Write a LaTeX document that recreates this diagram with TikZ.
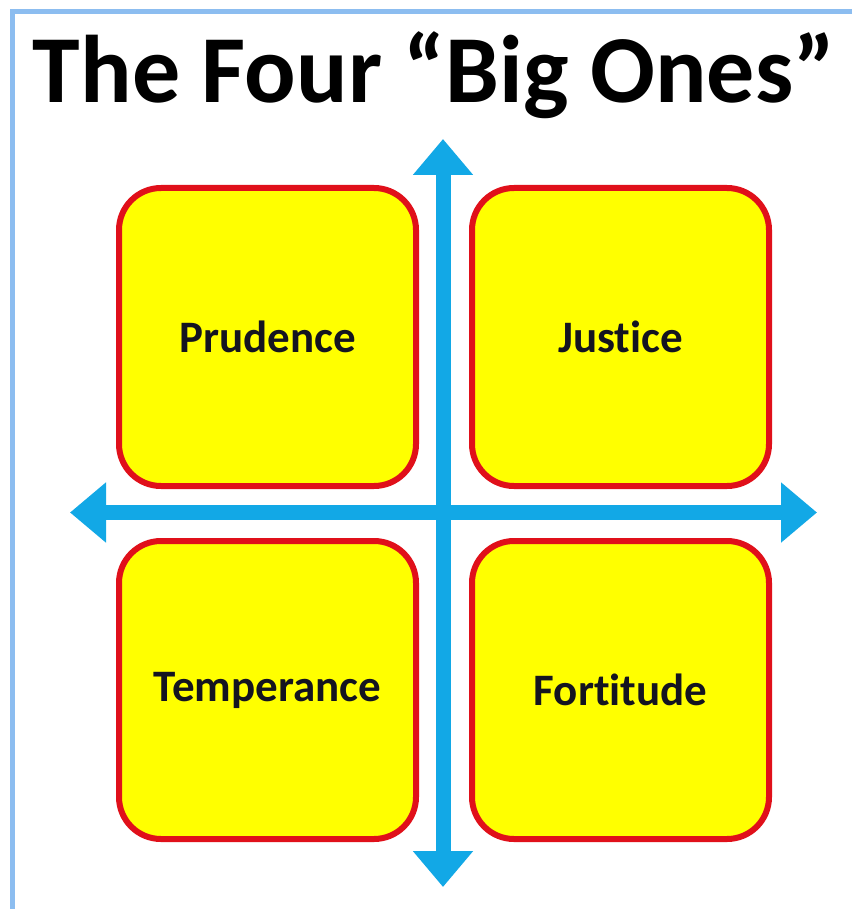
\documentclass[tikz,border=0pt]{standalone}
\usepackage{fontspec}
\setmainfont[RawFeature={-liga;-dlig;-clig}]{Carlito}
\usetikzlibrary{arrows.meta}
\definecolor{boxyellow}{HTML}{FFFF00}
\definecolor{boxred}{HTML}{E0101A}
\definecolor{axisblue}{HTML}{12A8E6}
\definecolor{frameblue}{HTML}{8CBDF0}
\definecolor{labeltext}{HTML}{141420}
\tikzset{
  virtue/.style={draw=boxred, line width=6pt, fill=boxyellow, rounded corners=42pt,
    minimum width=297pt, minimum height=298pt, inner sep=0pt,
    font=\fontsize{45}{52}\selectfont\bfseries, text=labeltext},
  axis/.style={draw=axisblue, line width=15pt,
    -{Triangle[length=36pt,width=58pt]}, shorten >=0pt},
  frame/.style={draw=frameblue, line width=5pt}
}
\begin{document}
\begin{tikzpicture}[x=1pt,y=-1pt]
\useasboundingbox (0,0) rectangle (852,909);
\fill[white] (0,0) rectangle (852,909);
\coordinate (ftl) at (12,12);
\coordinate (ftr) at (852,12);
\coordinate (fbl) at (12,909);
\draw[frame] (ftr) -- (ftl) -- (fbl);
\node[font=\fontsize{96}{104}\selectfont\bfseries, inner sep=0pt, anchor=base] (title) at (434,103) {The Four “Big Ones”};
\node[virtue] (pru) at (267.5,337) {Prudence};
\node[virtue] (jus) at (620.5,337) {Justice};
\node[virtue] (tem) at (267.5,690) {Temperance};
\node[virtue] (for) at (620.5,690) {Fortitude};
\coordinate (c) at (443,512.5);
\coordinate (top) at (443,139);
\coordinate (bot) at (443,887);
\coordinate (lft) at (70,512.5);
\coordinate (rgt) at (817,512.5);
\draw[axis] (c) -- (top);
\draw[axis] (c) -- (bot);
\draw[axis] (c) -- (lft);
\draw[axis] (c) -- (rgt);
\end{tikzpicture}
\end{document}
